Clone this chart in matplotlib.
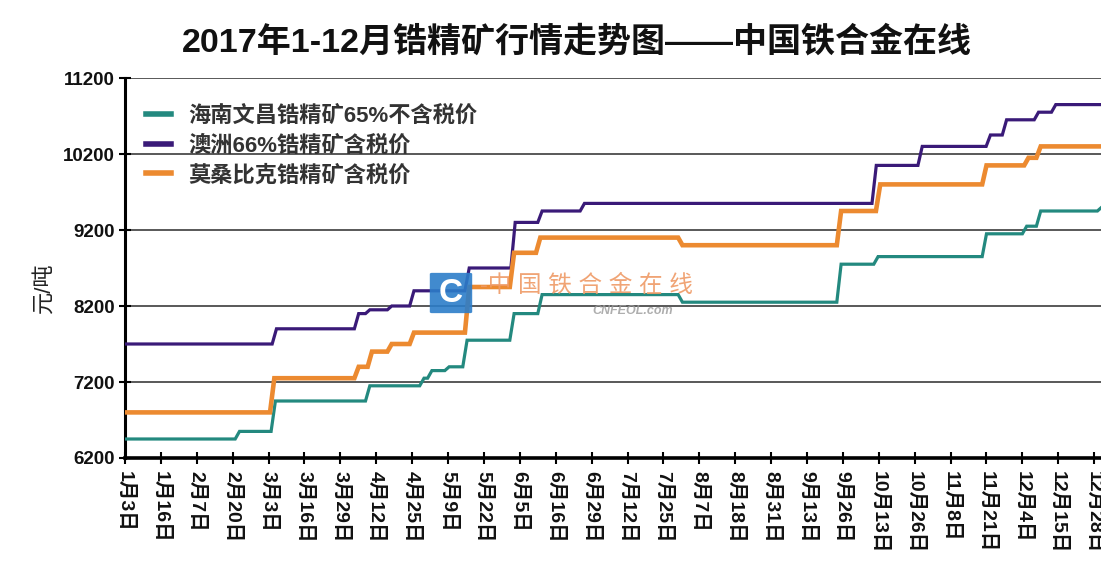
import matplotlib
matplotlib.use('Agg')
import matplotlib.pyplot as plt
from matplotlib.patches import FancyBboxPatch

# ---------------- data ----------------
title = "2017年1-12月锆精矿行情走势图——中国铁合金在线"
y_label = "元/吨"
date_labels = ["1月3日", "1月16日", "2月7日", "2月20日", "3月3日", "3月16日", "3月29日",
               "4月12日", "4月25日", "5月9日", "5月22日", "6月5日", "6月16日", "6月29日",
               "7月12日", "7月25日", "8月7日", "8月18日", "8月31日", "9月13日", "9月26日",
               "10月13日", "10月26日", "11月8日", "11月21日", "12月4日", "12月15日", "12月28日"]
y_ticks = [6200, 7200, 8200, 9200, 10200, 11200]

name_hainan = "海南文昌锆精矿65%不含税价"
name_aus = "澳洲66%锆精矿含税价"
name_moz = "莫桑比克锆精矿含税价"

# price change points: position on the date axis (in label slots) and new price (元/吨)
hainan_at = [0, 3.13, 4.13, 6.76, 8.27, 8.49, 8.97, 9.47, 10.78, 11.56, 15.47, 19.89,
             20.92, 23.94, 25.06, 25.45, 27.15]
hainan_price = [6450, 6550, 6950, 7150, 7250, 7350, 7400, 7750, 8100, 8350, 8250, 8750,
                8850, 9150, 9250, 9450, 9500]

aus_at = [0, 4.16, 6.45, 6.76, 7.37, 7.99, 9.53, 10.81, 11.56, 12.74, 20.87, 22.15,
          24.05, 24.50, 25.39, 25.87]
aus_price = [7700, 7900, 8100, 8150, 8200, 8400, 8700, 9300, 9450, 9550, 10050, 10300,
             10450, 10650, 10750, 10850]

moz_at = [0, 4.10, 6.45, 6.82, 7.37, 7.99, 9.53, 10.78, 11.51, 15.47, 19.89, 20.98,
          23.94, 25.11, 25.45]
moz_price = [6800, 7250, 7400, 7600, 7700, 7850, 8450, 8900, 9100, 9000, 9450, 9800,
             10050, 10150, 10300]

# ---------------- style ----------------
W, H = 1101, 573
X_END = 27.19
RAMP = 0.06
CJK = ['Liberation Sans', 'Noto Sans CJK SC', 'DejaVu Sans']
plt.rcParams['font.family'] = CJK


def step_path(at, price, x_end):
    xs, ys = [at[0]], [price[0]]
    for i in range(1, len(at)):
        xs += [at[i] - RAMP, at[i] + RAMP]
        ys += [price[i - 1], price[i]]
    xs.append(x_end)
    ys.append(price[-1])
    return xs, ys


fig = plt.figure(figsize=(W / 100, H / 100), dpi=100)
ax = fig.add_axes([125 / W, 1 - 458 / H, (W - 125) / W, (458 - 78) / H])

series = [
    (name_hainan, hainan_at, hainan_price, '#23897f', 2.3),
    (name_aus, aus_at, aus_price, '#3a1a78', 2.3),
    (name_moz, moz_at, moz_price, '#ec8a30', 3.3),
]
for name, at, price, color, lw in series:
    xs, ys = step_path(at, price, X_END + 0.2)
    ax.plot(xs, ys, color=color, lw=lw, label=name, solid_joinstyle='miter', zorder=3)

ax.set_xlim(0, X_END)
ax.set_ylim(6200, 11200)
ax.set_yticks(y_ticks)
ax.set_yticklabels([str(v) for v in y_ticks])
ax.set_xticks(range(len(date_labels)))
ax.set_xticklabels(date_labels, rotation=-90, va='top', ha='center',
                   fontsize=14, fontweight='bold', color='#111111')
for lab in ax.get_yticklabels():
    lab.set_fontsize(13.5)
    lab.set_fontweight('bold')
    lab.set_color('#111111')

ax.grid(axis='y', color='#3c3c3c', lw=1.2, zorder=1)
ax.set_axisbelow(True)
for s in ['top', 'right']:
    ax.spines[s].set_visible(False)
ax.spines['left'].set_linewidth(2.2)
ax.spines['bottom'].set_linewidth(2.6)
ax.tick_params(axis='both', direction='inout', length=9, width=1.5, color='black')
ax.tick_params(axis='y', pad=3)
ax.tick_params(axis='x', pad=5)

leg = ax.legend(loc='upper left', bbox_to_anchor=(0.022, 0.928), frameon=False,
                handlelength=1.1, handletextpad=0.8, labelspacing=0.38,
                borderaxespad=0, borderpad=0,
                prop={'family': CJK, 'size': 16, 'weight': 'bold'})
for t in leg.get_texts():
    t.set_color('#333333')
for h in leg.get_lines():
    h.set_linewidth(4)

fig.text(577 / W, 1 - 42 / H, title, ha='center', va='center', fontsize=24.5,
         fontweight='bold', color='#111111')
fig.text(44 / W, 1 - 288 / H, y_label, rotation=90, ha='center', va='center',
         fontsize=16, color='#222222')

# watermark
box = FancyBboxPatch((432 / W, 1 - 312 / H), 38 / W, 38 / H,
                     boxstyle='round,pad=0.002', transform=fig.transFigure,
                     facecolor='#2c7dc9', edgecolor='none', alpha=0.9, zorder=5)
fig.patches.append(box)
fig.text(451 / W, 1 - 293 / H, "C", ha='center', va='center', fontsize=24,
         fontweight='bold', color='white', zorder=6)
fig.text(480 / W, 1 - 286 / H, "-中 国 铁 合 金 在 线", ha='left', va='center',
         fontsize=17, color='#ef9a66', alpha=0.9, zorder=6)
fig.text(633 / W, 1 - 311 / H, "CNFEOL.com", ha='center', va='center', fontsize=9,
         fontweight='bold', style='italic', color='#9a9a9a', alpha=0.8, zorder=6)

fig.savefig('out.png', dpi=100)
